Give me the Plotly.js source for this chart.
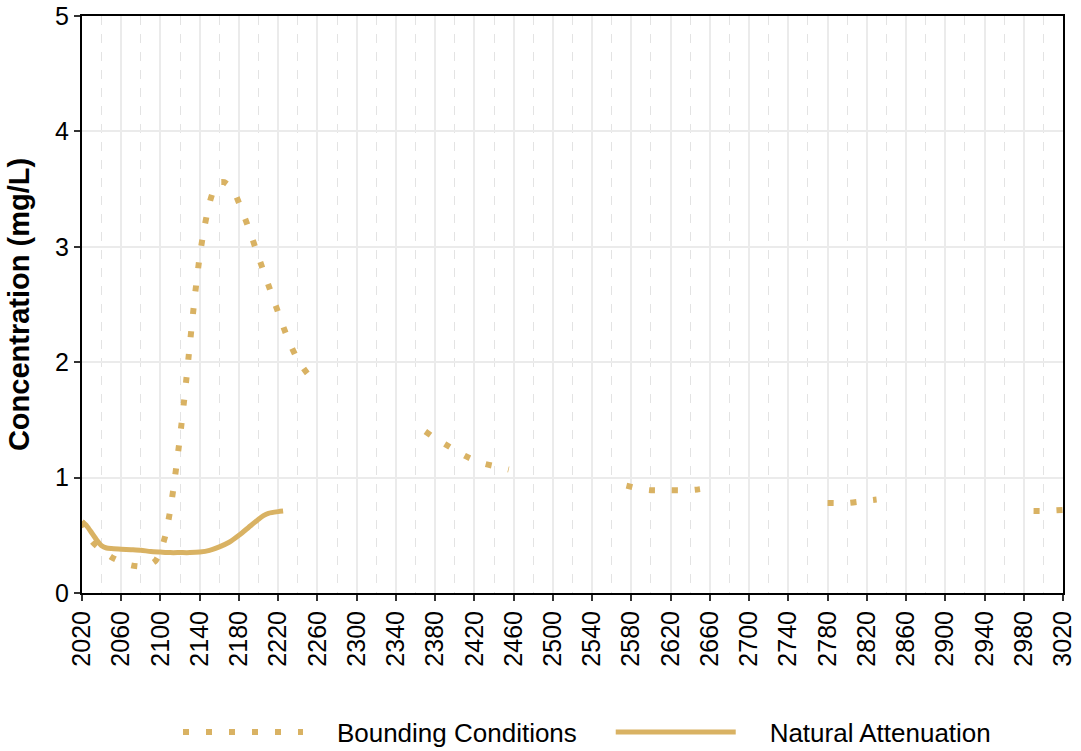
<!DOCTYPE html>
<html>
<head>
<meta charset="utf-8">
<script src="https://cdn.plot.ly/plotly-3.0.1.min.js"></script>
<style>html,body{margin:0;padding:0;background:#fff;}#chart{width:1081px;height:751px;}</style>
</head>
<body>
<div id="chart"></div>
<script>
// Bounding Conditions (null = no value drawn)
const boundYears = [2020,2030,2040,2050,2060,2070,2080,2090,2095,2100,2105,2110,2115,2120,2125,2130,2135,2140,2145,2150,2155,2160,2165,2170,2175,2180,2190,2200,2210,2220,2230,2240,2250,2255,
  2300,
  2370,2380,2390,2400,2410,2420,2430,2440,2450,2455,
  2500,
  2575,2590,2600,2620,2640,2650,
  2700,
  2780,2800,2820,2830,
  2900,
  2990,3000,3020];
const boundValues = [0.62,0.45,0.37,0.31,0.27,0.24,0.23,0.25,0.28,0.36,0.50,0.72,1.02,1.36,1.74,2.16,2.57,2.92,3.18,3.38,3.51,3.56,3.56,3.53,3.48,3.38,3.16,2.91,2.67,2.43,2.20,2.02,1.90,1.86,
  null,
  1.40,1.34,1.29,1.24,1.19,1.15,1.12,1.10,1.08,1.07,
  null,
  0.93,0.90,0.89,0.89,0.89,0.90,
  null,
  0.78,0.78,0.80,0.81,
  null,
  0.71,0.71,0.72];

// Natural Attenuation
const natYears = [2020,2025,2030,2035,2040,2045,2050,2060,2070,2080,2090,2100,2110,2120,2130,2140,2150,2160,2170,2180,2190,2200,2205,2210,2220,2225];
const natValues = [0.62,0.58,0.52,0.46,0.41,0.39,0.385,0.38,0.375,0.37,0.36,0.355,0.35,0.35,0.35,0.355,0.37,0.40,0.44,0.50,0.57,0.64,0.67,0.69,0.705,0.71];

// Series names
const seriesNames = ['Bounding Conditions', 'Natural Attenuation'];

const gold = '#d9b263';
const font = 'Liberation Sans, Arial, sans-serif';
const pad = '\u00a0\u00a0\u00a0\u00a0';

const traces = [
  {
    x: boundYears, y: boundValues, type: 'scatter', mode: 'lines',
    name: pad + seriesNames[0] + pad, connectgaps: false,
    line: {color: gold, width: 6, dash: '6px,17px', shape: 'spline', smoothing: 0.6}
  },
  {
    x: natYears, y: natValues, type: 'scatter', mode: 'lines',
    name: pad + seriesNames[1],
    line: {color: gold, width: 5, shape: 'spline', smoothing: 0.6}
  }
];

const layout = {
  width: 1081, height: 751,
  paper_bgcolor: '#fff', plot_bgcolor: '#fff',
  margin: {l: 82, r: 18, t: 16, b: 158},
  font: {family: font, color: '#000'},
  showlegend: true,
  legend: {
    orientation: 'h', x: 0.543, xanchor: 'center', xref: 'container',
    y: 0.025, yanchor: 'middle', yref: 'container',
    font: {family: font, size: 26, color: '#000'},
    itemwidth: 120, traceorder: 'normal'
  },
  xaxis: {
    range: [2020, 3020], tick0: 2020, dtick: 40, tickmode: 'linear',
    tickangle: -90, tickfont: {family: font, size: 25, color: '#000'},
    showline: true, linecolor: '#000', linewidth: 2, mirror: true,
    ticks: 'outside', ticklen: 6, tickwidth: 2, tickcolor: '#333',
    showgrid: true, gridcolor: '#ebebeb', gridwidth: 2,
    minor: {dtick: 20, tick0: 2020, showgrid: true, gridcolor: '#e3e3e3', gridwidth: 1, griddash: 'dash', ticks: ''},
    zeroline: false, automargin: false
  },
  yaxis: {
    range: [0, 5], dtick: 1, tick0: 0, tickmode: 'linear',
    tickfont: {family: font, size: 25, color: '#000'},
    title: {text: '<b>Concentration (mg/L)</b>', font: {family: font, size: 29, color: '#000'}, standoff: 17},
    showline: true, linecolor: '#000', linewidth: 2, mirror: true,
    ticks: 'outside', ticklen: 6, tickwidth: 2, tickcolor: '#333',
    showgrid: true, gridcolor: '#ebebeb', gridwidth: 2,
    zeroline: false
  }
};

Plotly.newPlot('chart', traces, layout, {displayModeBar: false, staticPlot: true});
</script>
</body>
</html>
